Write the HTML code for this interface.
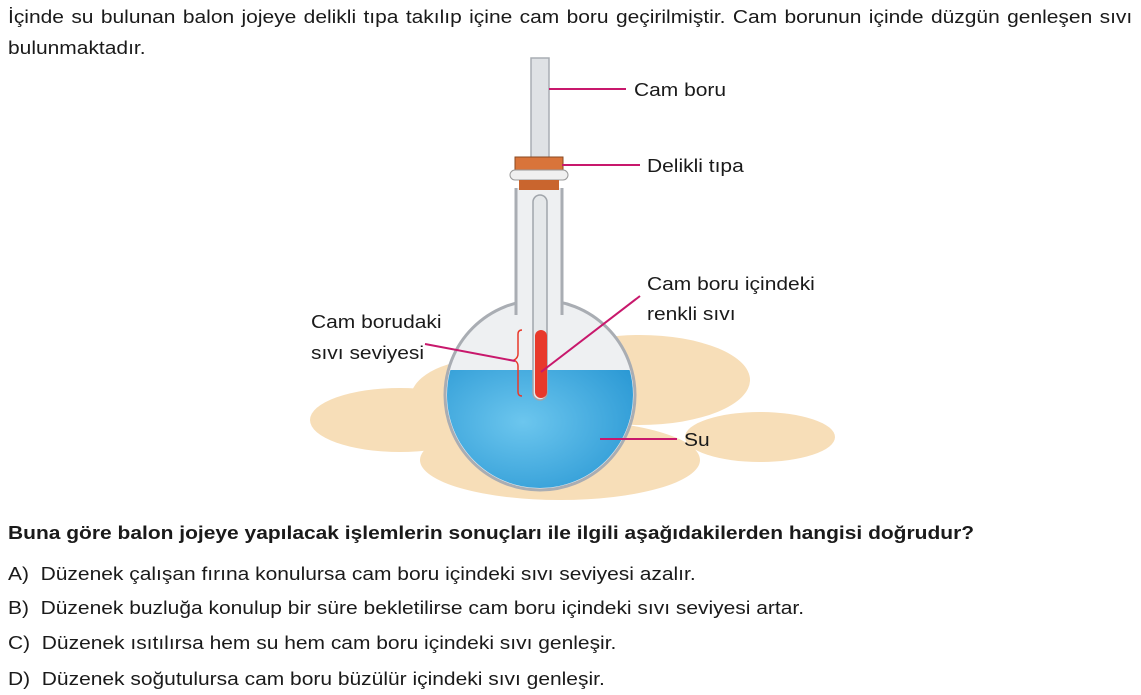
<!DOCTYPE html>
<html><head><meta charset="utf-8"><style>
body{margin:0;width:1141px;height:695px;background:#fff;position:relative;overflow:hidden;font-family:"Liberation Sans",Arial,sans-serif;color:#1a1a1a}
.t{position:absolute;font-size:18px;white-space:nowrap;line-height:1;transform:scaleX(1.165);transform-origin:0 0}
</style></head><body>
<div class="t" style="left:8px;top:8px;width:965px;text-align:justify;text-align-last:justify;white-space:normal">İçinde su bulunan balon jojeye delikli tıpa takılıp içine cam boru geçirilmiştir. Cam borunun içinde düzgün genleşen sıvı</div>
<div class="t" style="left:8px;top:39px">bulunmaktadır.</div>
<svg width="1141" height="695" style="position:absolute;left:0;top:0">
<defs>
<radialGradient id="w" cx="0.4" cy="0.4" r="0.7"><stop offset="0" stop-color="#6cc6ee"/><stop offset="1" stop-color="#2a98d4"/></radialGradient>
<clipPath id="bc"><circle cx="540" cy="395" r="93"/></clipPath>
</defs>
<g fill="#f7deb8">
<ellipse cx="400" cy="420" rx="90" ry="32"/>
<ellipse cx="640" cy="380" rx="110" ry="45"/>
<ellipse cx="760" cy="437" rx="75" ry="25"/>
<ellipse cx="560" cy="460" rx="140" ry="40"/>
<ellipse cx="480" cy="400" rx="70" ry="40"/>
</g>
<circle cx="540" cy="395" r="95" fill="#eef0f2" stroke="#a9adb3" stroke-width="3"/>
<rect x="447" y="370" width="190" height="130" fill="url(#w)" clip-path="url(#bc)"/>
<rect x="516" y="188" width="46" height="125" fill="#eef0f2"/>
<line x1="516" y1="188" x2="516" y2="315" stroke="#a9adb3" stroke-width="3"/>
<line x1="562" y1="188" x2="562" y2="315" stroke="#a9adb3" stroke-width="3"/>
<rect x="531" y="58" width="18" height="100" fill="#dfe2e5" stroke="#a9adb3" stroke-width="1.5"/>
<rect x="533" y="195" width="14" height="205" rx="7" fill="#e5e8ea" stroke="#a0a5ab" stroke-width="1.5"/>
<rect x="535" y="330" width="12" height="68" rx="6" fill="#e8392b"/>
<rect x="515" y="157" width="48" height="13" fill="#d9743a" stroke="#8a4a22"/>
<rect x="510" y="170" width="58" height="10" rx="5" fill="#f0f0f0" stroke="#999"/>
<rect x="519" y="180" width="40" height="10" fill="#c9652e"/>
<path d="M522 330 q-4 0 -4 4 v20 q0 4 -4 6 q4 2 4 6 v26 q0 4 4 4" fill="none" stroke="#e8392b" stroke-width="1.5"/>
<g stroke="#c8186c" stroke-width="2">
<line x1="549" y1="89" x2="626" y2="89"/>
<line x1="562" y1="165" x2="640" y2="165"/>
<line x1="640" y1="296" x2="541" y2="372"/>
<line x1="425" y1="344" x2="515" y2="361"/>
<line x1="600" y1="439" x2="677" y2="439"/>
</g>
</svg>
<div class="t" style="left:634px;top:81px">Cam boru</div>
<div class="t" style="left:647px;top:157px">Delikli tıpa</div>
<div class="t" style="left:647px;top:275px">Cam boru içindeki</div>
<div class="t" style="left:647px;top:305px">renkli sıvı</div>
<div class="t" style="left:311px;top:313px">Cam borudaki</div>
<div class="t" style="left:311px;top:344px">sıvı seviyesi</div>
<div class="t" style="left:684px;top:431px">Su</div>
<div class="t" style="left:8px;top:524px;font-weight:bold">Buna göre balon jojeye yapılacak işlemlerin sonuçları ile ilgili aşağıdakilerden hangisi doğrudur?</div>
<div class="t" style="left:8px;top:565px">A)&nbsp; Düzenek çalışan fırına konulursa cam boru içindeki sıvı seviyesi azalır.</div>
<div class="t" style="left:8px;top:599px">B)&nbsp; Düzenek buzluğa konulup bir süre bekletilirse cam boru içindeki sıvı seviyesi artar.</div>
<div class="t" style="left:8px;top:634px">C)&nbsp; Düzenek ısıtılırsa hem su hem cam boru içindeki sıvı genleşir.</div>
<div class="t" style="left:8px;top:670px">D)&nbsp; Düzenek soğutulursa cam boru büzülür içindeki sıvı genleşir.</div>
</body></html>
